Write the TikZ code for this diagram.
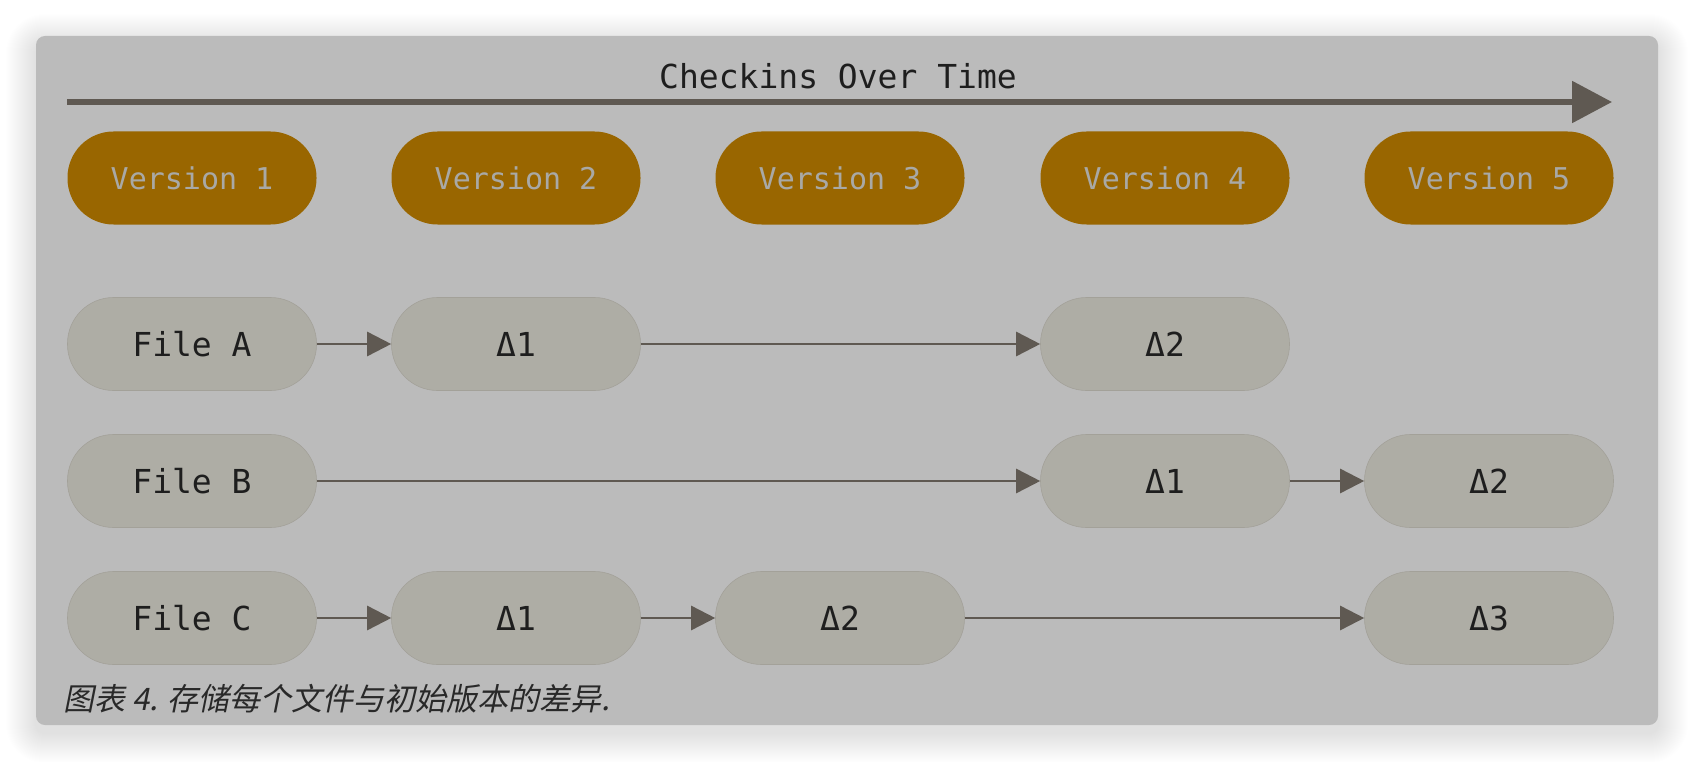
\documentclass[tikz,border=0pt]{standalone}
\usepackage{fontspec}
\setmonofont{DejaVu Sans Mono}
\newfontfamily\cjk[FakeSlant=0.2]{Noto Sans CJK SC}
\usepackage{xcolor}
\usetikzlibrary{arrows.meta, positioning}

\definecolor{panelgray}{HTML}{BBBBBB}
\definecolor{versionfill}{HTML}{996600}
\definecolor{versiontext}{HTML}{A9A9A6}
\definecolor{filefill}{HTML}{AEADA5}
\definecolor{fileedge}{HTML}{A3A199}
\definecolor{arrowgray}{HTML}{5F5952}
\definecolor{inkdark}{HTML}{1E1E1E}

\tikzset{
  pill/.style={rectangle, rounded corners=46pt, minimum width=249pt, minimum height=93pt, inner sep=0pt},
  versionpill/.style={pill, fill=versionfill, text=versiontext, font=\ttfamily\fontsize{30}{36}\selectfont},
  filepill/.style={pill, fill=filefill, draw=fileedge, line width=0.6pt, text=inkdark, font=\ttfamily\fontsize{33}{40}\selectfont},
  delta/.style={-{Triangle[length=24pt,width=24pt]}, line width=2.6pt, draw=arrowgray},
}

\begin{document}
\begin{tikzpicture}[x=1pt, y=-1pt]
\useasboundingbox (0,0) rectangle (1694,762);
\fill[white] (0,0) rectangle (1694,762);

% Panel with soft shadow
\foreach \s in {1,...,30}
    \fill[black, opacity=0.0035, rounded corners=9pt+\s pt] (36-\s,36-\s+8) rectangle (1658+\s,725+\s+8);
\fill[panelgray, rounded corners=9pt] (36,36) rectangle (1658,725);

% Time line
\node[font=\ttfamily\fontsize{33}{40}\selectfont, text=inkdark] (title) at (838,76) {Checkins Over Time};
\coordinate (tstart) at (67,102);
\coordinate (tend) at (1612,102);
\draw[-{Triangle[length=40pt,width=41pt]}, line width=5.5pt, draw=arrowgray] (tstart) -- (tend);

% Versions
\foreach \i/\x in {1/192,2/516,3/840,4/1165,5/1489}
    \node[versionpill] (v\i) at (\x,178) {Version \i};

% File A
\node[filepill] (fa) at (192,344) {File A};
\node[filepill] (da1) at (516,344) {Δ1};
\node[filepill] (da2) at (1165,344) {Δ2};
\draw[delta] (fa) -- (da1);
\draw[delta] (da1) -- (da2);

% File B
\node[filepill] (fb) at (192,481) {File B};
\node[filepill] (db1) at (1165,481) {Δ1};
\node[filepill] (db2) at (1489,481) {Δ2};
\draw[delta] (fb) -- (db1);
\draw[delta] (db1) -- (db2);

% File C
\node[filepill] (fc) at (192,618) {File C};
\node[filepill] (dc1) at (516,618) {Δ1};
\node[filepill] (dc2) at (840,618) {Δ2};
\node[filepill] (dc3) at (1489,618) {Δ3};
\draw[delta] (fc) -- (dc1);
\draw[delta] (dc1) -- (dc2);
\draw[delta] (dc2) -- (dc3);

% Caption
\node[anchor=west, inner sep=0pt, text=inkdark!95, font=\cjk\fontsize{31}{37}\selectfont] (caption) at (63,699) {图表 4. 存储每个文件与初始版本的差异.};
\end{tikzpicture}
\end{document}
